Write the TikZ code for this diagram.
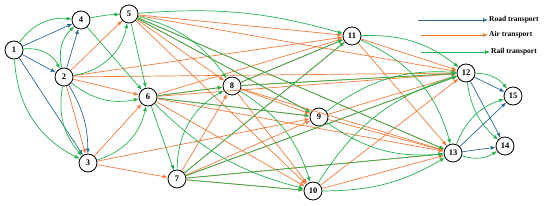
\documentclass[tikz,border=0pt]{standalone}
\usepackage{fontspec}
\setmainfont{Liberation Serif}
\usetikzlibrary{arrows.meta}
\definecolor{road}{HTML}{2C6A97}
\definecolor{air}{HTML}{F47B3B}
\definecolor{rail}{HTML}{22B24C}
\tikzset{
  st/.style={circle,draw=black,line width=0.8pt,fill=white,minimum size=18pt,inner sep=0pt,font=\fontsize{8.5}{8.5}\selectfont\bfseries},
  edge/.style={line width=0.7pt,-{Latex[length=5pt,width=4pt]}},
  rd/.style={edge,draw=road},
  ar/.style={edge,draw=air},
  rl/.style={edge,draw=rail},
  lg/.style={font=\fontsize{7.5}{7.5}\selectfont\bfseries,anchor=west,inner sep=1pt}
}
\begin{document}
\begin{tikzpicture}[x=1pt,y=1pt]
\useasboundingbox (0,-206) rectangle (550,0);
% legend
\coordinate (ra) at (418,-20);
\coordinate (aa) at (421,-35);
\coordinate (la) at (421,-52);
\node[lg] (tr) at (488,-20) {Road transport};
\node[lg] (ta) at (488,-35) {Air transport};
\node[lg] (tl) at (490,-52) {Rail transport};
\draw[rd] (ra) -- (tr.west);
\draw[ar] (aa) -- (ta.west);
\draw[rl] (la) -- (tl.west);
% nodes
\node[st] (n1) at (14,-50) {1};
\node[st] (n4) at (81,-20) {4};
\node[st] (n5) at (129,-14) {5};
\node[st] (n2) at (64,-77) {2};
\node[st] (n6) at (148,-97) {6};
\node[st] (n3) at (88,-163) {3};
\node[st] (n7) at (177,-179) {7};
\node[st] (n8) at (232,-86) {8};
\node[st] (n9) at (319,-117) {9};
\node[st] (n10) at (313,-191) {10};
\node[st] (n11) at (352,-36) {11};
\node[st] (n12) at (466,-73) {12};
\node[st] (n13) at (453,-153) {13};
\node[st] (n15) at (513,-96) {15};
\node[st] (n14) at (505,-146) {14};
% road
\draw[rd] (n1) -- (n4);
\draw[rd] (n1) -- (n2);
\draw[rd] (n1) -- (n3);
\draw[rd] (n2) -- (n4);
\draw[rd] (n2) to[bend left=15] (n3);
\draw[rd] (n12) -- (n15);
\draw[rd] (n12) -- (n14);
\draw[rd] (n13) -- (n15);
\draw[rd] (n13) -- (n14);
% air
\draw[ar] (n2) -- (n3);
\draw[ar] (n2) -- (n5);
\draw[ar] (n2) -- (n6);
\draw[ar] (n2) -- (n11);
\draw[ar] (n2) -- (n12);
\draw[ar] (n3) -- (n6);
\draw[ar] (n3) -- (n7);
\draw[ar] (n3) -- (n9);
\foreach \s in {5,6,7} {
  \foreach \t in {8,9,10,11,12,13} {
    \draw[ar] (n\s) -- (n\t);
  }
}
\foreach \t in {9,10,11,12,13} {\draw[ar] (n8) -- (n\t);}
\foreach \s in {9,10,11} {
  \draw[ar] (n\s) -- (n12);
  \draw[ar] (n\s) -- (n13);
}
% rail
\draw[rl] (n1) to[bend left=30] (n4);
\draw[rl] (n1) to[bend left=35] (n2);
\draw[rl] (n1) to[bend right=30] (n3);
\draw[rl] (n2) to[bend left=30] (n4);
\draw[rl] (n2) to[bend right=25] (n3);
\draw[rl] (n2) to[bend right=35] (n5);
\draw[rl] (n4) to[bend left=5] (n5);
\draw[rl] (n4) -- (n6);
\draw[rl] (n2) to[bend right=25] (n6);
\draw[rl] (n3) to[bend right=30] (n6);
\draw[rl] (n5) -- (n6);
\draw[rl] (n6) -- (n7);
\draw[rl] (n5) to[bend left=10] (n11);
\draw[rl] (n5) to[bend left=20] (n8);
\draw[rl] (n5) -- (n9);
\draw[rl] (n5) -- (n13);
\draw[rl] (n6) -- (n8);
\draw[rl] (n6) -- (n9);
\draw[rl] (n6) to[bend right=15] (n10);
\draw[rl] (n7) to[bend left=30] (n8);
\draw[rl] (n7) -- (n11);
\draw[rl] (n7) -- (n12);
\draw[rl] (n7) -- (n13);
\draw[rl] (n7) -- (n10);
\draw[rl] (n8) to[bend left=20] (n10);
\draw[rl] (n8) -- (n11);
\draw[rl] (n8) -- (n12);
\draw[rl] (n9) to[bend left=20] (n12);
\draw[rl] (n9) to[bend right=20] (n13);
\draw[rl] (n10) to[bend left=20] (n12);
\draw[rl] (n10) to[bend right=15] (n13);
\draw[rl] (n11) to[bend left=20] (n12);
\draw[rl] (n11) to[bend left=25] (n13);
\draw[rl] (n12) to[bend left=25] (n15);
\draw[rl] (n12) to[bend right=20] (n14);
\draw[rl] (n13) to[bend left=25] (n15);
\draw[rl] (n13) to[bend right=25] (n14);
\end{tikzpicture}
\end{document}
